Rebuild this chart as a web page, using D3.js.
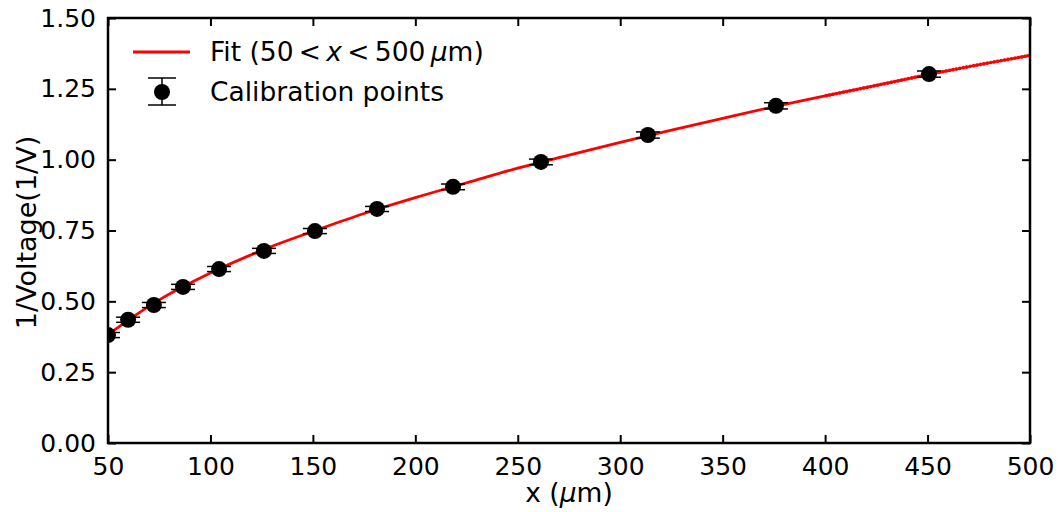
<!DOCTYPE html>
<html>
<head>
<meta charset="utf-8">
<script src="https://cdn.jsdelivr.net/npm/d3@7"></script>
<style>
  body { margin: 0; background: #fff; }
  text { font-family: "DejaVu Sans", sans-serif; }
</style>
</head>
<body>
<div id="chart"></div>
<script>
// Calibration points
const pointX = [50, 59.8, 72.4, 86.6, 104.2, 126.1, 151, 181.3, 218.4, 261.3, 313.5, 376, 450.7]
const pointY = [0.381, 0.435, 0.487, 0.551, 0.614, 0.678, 0.748, 0.826, 0.904, 0.992, 1.087, 1.190, 1.302]
const pointErr = [0.009, 0.009, 0.009, 0.009, 0.009, 0.009, 0.009, 0.009, 0.01, 0.01, 0.011, 0.011, 0.011]

// Fit curve
const fitX = [50, 60, 75, 100, 125, 150, 175, 200, 225, 250, 275, 300, 325, 350, 375, 400, 425, 450, 475, 500]
const fitY = [0.383, 0.434, 0.505, 0.600, 0.680, 0.747, 0.810, 0.866, 0.918, 0.970, 1.016, 1.061, 1.104, 1.146, 1.187, 1.225, 1.262, 1.300, 1.335, 1.368]

const xTicks = [50, 100, 150, 200, 250, 300, 350, 400, 450, 500]
const yTicks = [0, 0.25, 0.5, 0.75, 1.0, 1.25, 1.5]

const width = 1059, height = 512
const margin = { top: 18, right: 29, bottom: 69, left: 108 }
const iw = width - margin.left - margin.right
const ih = height - margin.top - margin.bottom

const svg = d3.select("#chart").append("svg")
  .attr("width", width)
  .attr("height", height)

const g = svg.append("g").attr("transform", `translate(${margin.left},${margin.top})`)

const x = d3.scaleLinear().domain([50, 500]).range([0, iw])
const y = d3.scaleLinear().domain([0, 1.5]).range([ih, 0])

svg.append("defs").append("clipPath").attr("id", "clip")
  .append("rect").attr("width", iw).attr("height", ih)

const plot = g.append("g").attr("clip-path", "url(#clip)")

// Fit line
const fit = fitX.map((d, i) => [d, fitY[i]])
const line = d3.line().x(d => x(d[0])).y(d => y(d[1])).curve(d3.curveMonotoneX)
plot.append("path")
  .datum(fit)
  .attr("d", line)
  .attr("fill", "none")
  .attr("stroke", "#ff0000")
  .attr("stroke-width", 2.8)
// dotted overlay towards the right end
plot.append("path")
  .datum(fit.filter(d => d[0] >= 400))
  .attr("d", line)
  .attr("fill", "none")
  .attr("stroke", "#ff0000")
  .attr("stroke-width", 3.4)
  .attr("stroke-dasharray", "2,1.5")

// Error bars and points
const pts = pointX.map((d, i) => ({ x: d, y: pointY[i], e: pointErr[i] }))
const eb = plot.append("g").selectAll("g").data(pts).join("g")
eb.append("line")
  .attr("x1", d => x(d.x)).attr("x2", d => x(d.x))
  .attr("y1", d => y(d.y - d.e)).attr("y2", d => y(d.y + d.e))
  .attr("stroke", "#000").attr("stroke-width", 1.5)
eb.selectAll(".cap").data(d => [d.y - d.e, d.y + d.e].map(v => ({ x: d.x, v })))
  .join("line")
  .attr("x1", d => x(d.x) - 12).attr("x2", d => x(d.x) + 12)
  .attr("y1", d => y(d.v)).attr("y2", d => y(d.v))
  .attr("stroke", "#000").attr("stroke-width", 1.5)
eb.append("circle")
  .attr("cx", d => x(d.x)).attr("cy", d => y(d.y))
  .attr("r", 8).attr("fill", "#000")

// Axes, ticks inward on all sides
const fmtY = d3.format(".2f")
g.append("g").attr("transform", `translate(0,${ih})`)
  .call(d3.axisBottom(x).tickValues(xTicks).tickSizeInner(-8).tickSizeOuter(0).tickPadding(14))
g.append("g")
  .call(d3.axisTop(x).tickValues(xTicks).tickSizeInner(-8).tickSizeOuter(0).tickFormat(""))
g.append("g")
  .call(d3.axisLeft(y).tickValues(yTicks).tickFormat(fmtY).tickSizeInner(-8).tickSizeOuter(0).tickPadding(12))
g.append("g").attr("transform", `translate(${iw},0)`)
  .call(d3.axisRight(y).tickValues(yTicks).tickSizeInner(-8).tickSizeOuter(0).tickFormat(""))

g.selectAll(".domain").remove()
g.selectAll(".tick line").attr("stroke", "#000").attr("stroke-width", 2)
g.selectAll(".tick text").attr("font-size", 25).attr("fill", "#000")

g.append("rect").attr("width", iw).attr("height", ih)
  .attr("fill", "none").attr("stroke", "#000").attr("stroke-width", 2.5)

// Axis labels
const xl = svg.append("text")
  .attr("x", margin.left + iw / 2).attr("y", 502)
  .attr("text-anchor", "middle").attr("font-size", 26.5)
xl.append("tspan").text("x (")
xl.append("tspan").attr("font-style", "italic").text("μ")
xl.append("tspan").text("m)")
svg.append("text")
  .attr("transform", `translate(36,${margin.top + ih / 2 + 2}) rotate(-90)`)
  .attr("text-anchor", "middle").attr("font-size", 27)
  .text("1/Voltage(1/V)")

// Legend
const lg = svg.append("g")
lg.append("line").attr("x1", 133).attr("x2", 190).attr("y1", 52).attr("y2", 52)
  .attr("stroke", "#ff0000").attr("stroke-width", 2.8)
const ft = lg.append("text").attr("x", 210).attr("y", 61).attr("font-size", 26.5)
ft.append("tspan").text("Fit (50\u2009<\u2009")
ft.append("tspan").attr("font-style", "italic").text("x")
ft.append("tspan").text("\u2009<\u2009500\u2009")
ft.append("tspan").attr("font-style", "italic").text("μ")
ft.append("tspan").text("m)")
lg.append("line").attr("x1", 162).attr("x2", 162).attr("y1", 78).attr("y2", 105)
  .attr("stroke", "#000").attr("stroke-width", 1.5)
lg.selectAll(".lcap").data([78, 105]).join("line")
  .attr("x1", 148).attr("x2", 176).attr("y1", d => d).attr("y2", d => d)
  .attr("stroke", "#000").attr("stroke-width", 1.5)
lg.append("circle").attr("cx", 162).attr("cy", 92).attr("r", 8).attr("fill", "#000")
lg.append("text").attr("x", 210).attr("y", 101).attr("font-size", 26.5)
  .text("Calibration points")
</script>
</body>
</html>
